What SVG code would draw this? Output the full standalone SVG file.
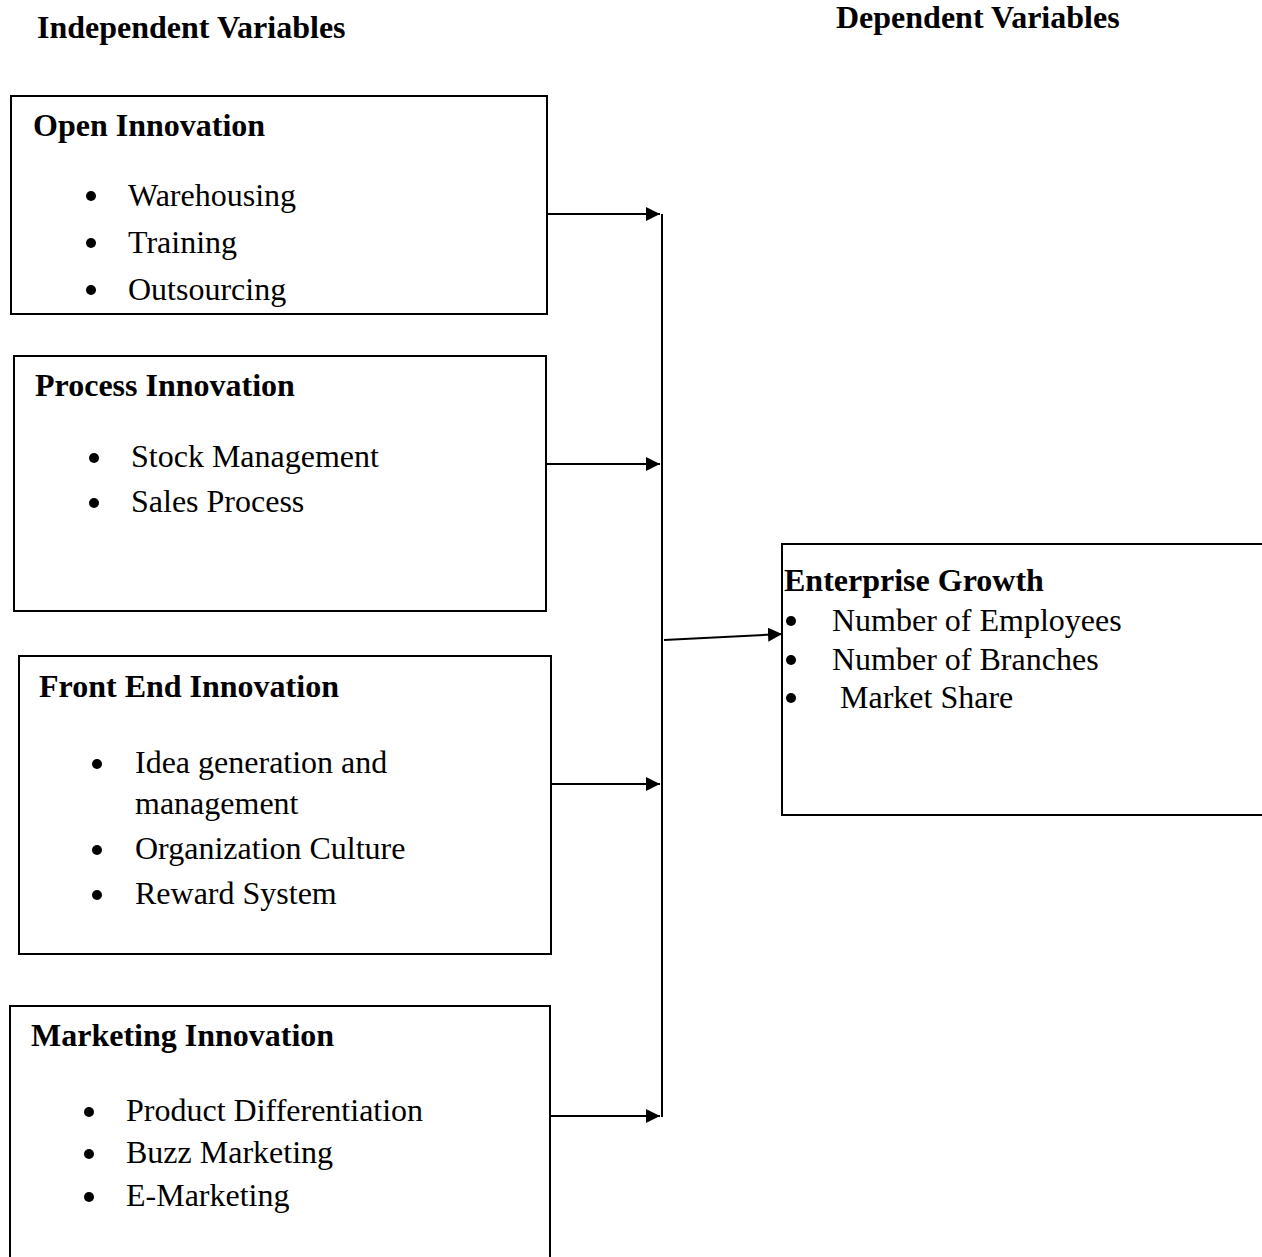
<svg xmlns="http://www.w3.org/2000/svg" width="1262" height="1257" viewBox="0 0 1262 1257">
<style>
text{font-family:"Liberation Serif","Times New Roman",serif;font-size:32px;fill:#000}
.h{font-weight:bold}
.box{fill:#fff;stroke:#000;stroke-width:2}
.ln{stroke:#000;stroke-width:2;fill:none}
</style>
<defs>
<marker id="ar" viewBox="0 0 14 14" refX="14" refY="7" markerWidth="14" markerHeight="14" markerUnits="userSpaceOnUse" orient="auto">
<path d="M0,0 L14,7 L0,14 Z" fill="#000"/>
</marker>
</defs>
<rect width="1262" height="1257" fill="#fff"/>
<text class="h" x="37" y="38">Independent Variables</text>
<text class="h" x="836" y="28">Dependent Variables</text>

<g id="open">
<rect class="box" x="11" y="96" width="536" height="218"/>
<text class="h" x="33" y="136">Open Innovation</text>
<circle cx="91" cy="196" r="5"/><text x="128" y="206">Warehousing</text>
<circle cx="91" cy="243" r="5"/><text x="128" y="253">Training</text>
<circle cx="91" cy="290" r="5"/><text x="128" y="300">Outsourcing</text>
</g>

<g id="process">
<rect class="box" x="14" y="356" width="532" height="255"/>
<text class="h" x="35" y="396">Process Innovation</text>
<circle cx="94" cy="458" r="5"/><text x="131" y="467">Stock Management</text>
<circle cx="94" cy="503" r="5"/><text x="131" y="512">Sales Process</text>
</g>

<g id="frontend">
<rect class="box" x="19" y="656" width="532" height="298"/>
<text class="h" x="39" y="697">Front End Innovation</text>
<circle cx="97" cy="764" r="5"/><text x="135" y="773">Idea generation and</text>
<text x="135" y="814">management</text>
<circle cx="97" cy="850" r="5"/><text x="135" y="859">Organization Culture</text>
<circle cx="97" cy="895" r="5"/><text x="135" y="904">Reward System</text>
</g>

<g id="marketing">
<path class="ln" d="M10,1260 V1006 H550 V1260"/>
<text class="h" x="31" y="1046">Marketing Innovation</text>
<circle cx="89" cy="1112" r="5"/><text x="126" y="1121">Product Differentiation</text>
<circle cx="89" cy="1154" r="5"/><text x="126" y="1163">Buzz Marketing</text>
<circle cx="89" cy="1197" r="5"/><text x="126" y="1206">E-Marketing</text>
</g>

<g id="growth">
<rect class="box" x="782" y="544" width="482" height="271"/>
<text class="h" x="784" y="591">Enterprise Growth</text>
<circle cx="791" cy="621" r="5"/><text x="832" y="631">Number of Employees</text>
<circle cx="791" cy="660" r="5"/><text x="832" y="670">Number of Branches</text>
<circle cx="791" cy="698" r="5"/><text x="840" y="708">Market Share</text>
</g>

<g id="connectors">
<line class="ln" x1="662" y1="214" x2="662" y2="1117"/>
<line class="ln" x1="547" y1="214" x2="660" y2="214" marker-end="url(#ar)"/>
<line class="ln" x1="546" y1="464" x2="660" y2="464" marker-end="url(#ar)"/>
<line class="ln" x1="551" y1="784" x2="660" y2="784" marker-end="url(#ar)"/>
<line class="ln" x1="551" y1="1116" x2="660" y2="1116" marker-end="url(#ar)"/>
<line class="ln" x1="664" y1="640" x2="782" y2="634" marker-end="url(#ar)"/>
</g>
</svg>
